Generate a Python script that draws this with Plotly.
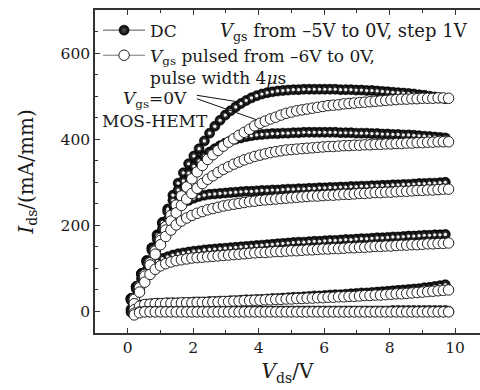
import plotly.graph_objects as go

# ---------------- data ----------------
vds_dc = [0.10,0.26,0.42,0.58,0.74,0.90,1.06,1.22,1.38,1.54,1.70,1.86,2.02,2.18,2.34,2.50,2.66,2.82,2.98,3.14,
          3.30,3.46,3.62,3.78,3.94,4.10,4.26,4.42,4.58,4.74,4.90,5.06,5.22,5.38,5.54,5.70,5.86,6.02,6.18,6.34,
          6.50,6.66,6.82,6.98,7.14,7.30,7.46,7.62,7.78,7.94,8.10,8.26,8.42,8.58,8.74,8.90,9.06,9.22,9.38,9.54,9.70]

vds_pulsed = [0.20,0.36,0.52,0.68,0.84,1.00,1.16,1.32,1.48,1.64,1.80,1.96,2.12,2.28,2.44,2.60,2.76,2.92,3.08,3.24,
              3.40,3.56,3.72,3.88,4.04,4.20,4.36,4.52,4.68,4.84,5.00,5.16,5.32,5.48,5.64,5.80,5.96,6.12,6.28,6.44,
              6.60,6.76,6.92,7.08,7.24,7.40,7.56,7.72,7.88,8.04,8.20,8.36,8.52,8.68,8.84,9.00,9.16,9.32,9.48,9.64,9.80]

# DC, Vgs = 0, -1, -2, -3, -4, -5 V
dc_vgs0 = [30,58,88,118,148,178,207,238,270,298,322,343,361,378,396,414,430,444,456,466,
           475,483,490,496,501,505,508,510,512,513,514,515,515,516,516,516,516,516,516,516,
           515,515,515,514,514,513,513,512,511,510,509,508,507,506,505,503,502,500,498,496,494]
dc_vgsm1 = [30,58,88,118,147,176,204,232,258,282,303,321,337,350,361,370,378,385,391,396,
            400,403,406,408,410,411,412,413,413,414,414,415,415,416,416,416,416,416,416,416,
            415,415,415,414,414,414,413,413,412,412,411,411,410,410,409,408,407,406,405,404,403]
dc_vgsm2 = [29,57,86,114,142,168,192,213,230,243,252,258,263,267,270,272,273,274,275,276,
            277,278,279,279,280,281,281,282,282,283,284,284,285,285,286,286,287,287,288,288,
            289,289,290,290,291,291,292,292,293,293,294,294,295,295,296,297,297,298,298,299,300]
dc_vgsm3 = [26,52,76,95,108,117,123,127,131,134,136,138,140,141,143,144,145,146,147,148,
            149,150,151,152,153,154,155,156,157,158,159,160,161,161,162,163,163,164,165,165,
            166,167,167,168,169,169,170,171,171,172,173,173,174,175,175,176,177,177,178,178,179]
dc_vgsm4 = [5,11,15,17,18,19,19,20,20,20,21,21,22,22,22,23,23,24,24,25,
            25,26,27,27,28,28,29,30,30,31,32,33,33,34,35,36,36,37,38,39,
            39,40,41,42,43,43,44,45,46,47,48,49,50,51,52,53,55,56,58,60,62]
dc_vgsm5 = [-2,0,1,1,1,1,1,1,1,1,1,1,1,1,1,1,1,1,1,1,
            1,1,1,1,1,1,1,1,1,1,1,1,1,1,1,1,1,1,1,1,
            1,1,1,1,1,1,1,1,1,1,2,2,2,2,2,2,2,2,2,2,2]

# Pulsed, Vgs = 0 ... -6 V
p_vgs0 = [30,58,86,114,142,170,197,223,247,268,289,308,324,339,353,364,374,384,393,401,
          409,416,423,431,437,442,447,451,456,460,463,466,468,470,472,474,476,478,479,480,
          482,483,484,485,486,487,488,489,490,491,492,493,493,494,494,495,495,495,496,496,495]
p_vgsm1 = [30,58,86,113,140,165,189,210,229,246,261,274,286,297,307,315,323,330,336,342,
           347,352,356,360,363,366,369,371,373,375,376,377,378,379,380,381,382,383,383,384,
           385,385,386,386,387,387,388,388,389,389,390,390,391,391,392,392,393,393,394,394,394]
p_vgsm2 = [28,55,82,108,133,155,174,189,201,210,217,223,228,232,236,239,242,245,247,249,
           251,253,255,256,258,259,260,261,262,263,264,265,266,267,268,268,269,270,270,271,
           272,272,273,274,274,275,276,276,277,277,278,279,279,280,281,281,282,282,283,284,284]
p_vgsm3 = [18,45,68,86,98,106,111,115,118,120,122,124,125,126,127,128,129,130,131,132,
           133,134,135,136,137,137,138,139,139,140,141,141,142,143,143,144,145,145,146,146,
           147,148,148,149,149,150,151,151,152,152,153,154,154,155,155,156,157,157,158,158,159]
p_vgsm4 = [4,12,16,17,18,18,19,19,19,20,20,20,21,21,21,22,22,23,23,24,
           24,25,25,26,26,27,27,28,28,29,29,30,30,31,31,32,32,33,33,34,
           34,35,35,36,37,37,38,38,39,40,41,41,42,43,44,45,46,47,48,49,50]
p_vgsm5 = [-4,-1,0,0,0,0,0,0,0,0,0,0,0,0,0,0,0,0,0,0,
           0,0,0,0,0,0,0,0,0,0,0,0,0,0,0,0,0,0,0,0,
           0,0,0,0,0,0,0,0,0,0,0,0,0,0,0,0,0,0,0,0,0]
p_vgsm6 = [-8,-3,-1,-1,-1,-1,-1,-1,-1,-1,-1,-1,-1,-1,-1,-1,-1,-1,-1,-1,
           -1,-1,-1,-1,-1,-1,-1,-1,-1,-1,-1,-1,-1,-1,-1,-1,-1,-1,-1,-1,
           -1,-1,-1,-1,-1,-1,-1,-1,-1,-1,-1,-1,-1,-1,-1,-1,-1,-1,-1,-1,-1]

dc_curves = [dc_vgs0, dc_vgsm1, dc_vgsm2, dc_vgsm3, dc_vgsm4, dc_vgsm5]
pulsed_curves = [p_vgs0, p_vgsm1, p_vgsm2, p_vgsm3, p_vgsm4, p_vgsm5, p_vgsm6]

dc_name = "DC"
pulsed_name = "<i>V</i><sub>gs</sub> pulsed from –6V to 0V,<br>pulse width 4<i>μ</i>s"

# ---------------- figure ----------------
FONT = "DejaVu Serif"
TXT = "#1a1a1a"
fig = go.Figure()

for i, ys in enumerate(dc_curves):
    fig.add_trace(go.Scatter(
        x=vds_dc, y=ys, mode="lines+markers", name=dc_name,
        showlegend=(i == 0), legendgroup="dc",
        line=dict(color="#555555", width=1),
        marker=dict(symbol="circle", size=10, color="#000000",
                    gradient=dict(type="radial", color="#555555"),
                    line=dict(color="#000000", width=0.6)),
    ))
# small glossy highlight on the DC beads
for ys in dc_curves:
    fig.add_trace(go.Scatter(
        x=vds_dc, y=ys, mode="markers", showlegend=False, hoverinfo="skip",
        marker=dict(symbol="circle", size=3.2, color="#f2f2f2", line=dict(width=0)),
    ))

for i, ys in enumerate(pulsed_curves):
    fig.add_trace(go.Scatter(
        x=vds_pulsed, y=ys, mode="lines+markers", name=pulsed_name,
        showlegend=(i == 0), legendgroup="pulsed",
        line=dict(color="#777777", width=1),
        marker=dict(symbol="circle", size=10.5, color="#ffffff",
                    line=dict(color="#222222", width=1)),
    ))

TS = 18
LS = 17
AS = 17
fig.add_annotation(x=2.76, y=649, xref="x", yref="y", xanchor="left", yanchor="middle",
                   text="<i>V</i><sub>gs</sub> from –5V to 0V, step 1V", showarrow=False,
                   font=dict(family=FONT, size=TS, color=TXT))
fig.add_annotation(x=1.86, y=492, xref="x", yref="y", xanchor="right", yanchor="middle",
                   text="<i>V</i><sub>gs</sub>=0V", showarrow=False,
                   font=dict(family=FONT, size=AS, color=TXT))
fig.add_annotation(x=0.83, y=443, xref="x", yref="y", xanchor="center", yanchor="middle",
                   text="MOS-HEMT", showarrow=False,
                   font=dict(family=FONT, size=AS, color=TXT))
fig.add_shape(type="line", xref="x", yref="y", x0=2.11, y0=502, x1=3.43, y1=486,
              line=dict(color="#111111", width=1))
fig.add_shape(type="line", xref="x", yref="y", x0=2.11, y0=494, x1=3.94, y1=445,
              line=dict(color="#111111", width=1))

axis_common = dict(
    showline=True, linecolor="#333333", linewidth=1.5,
    ticks="inside", tickcolor="#333333", ticklen=5, tickwidth=1.2,
    showgrid=False, zeroline=False,
    tickfont=dict(family=FONT, size=15.5, color=TXT),
)

fig.update_xaxes(
    range=[-1, 10.76], tickmode="array", tickvals=[0, 2, 4, 6, 8, 10],
    mirror="allticks",
    minor=dict(ticks="inside", dtick=1, tick0=0, ticklen=3, tickcolor="#333333", tickwidth=1.2),
    title=dict(text="<i>V</i><sub>ds</sub>/V", font=dict(family=FONT, size=20, color=TXT), standoff=8),
    **axis_common,
)
fig.update_yaxes(
    range=[-50, 700], tickmode="array", tickvals=[0, 200, 400, 600],
    mirror=False,
    minor=dict(ticks="inside", dtick=50, tick0=0, ticklen=3, tickcolor="#333333", tickwidth=1.2),
    title=dict(text="<i>I</i><sub>ds</sub>/(mA/mm)", font=dict(family=FONT, size=20, color=TXT), standoff=22),
    **axis_common,
)

fig.update_layout(
    width=480, height=390,
    margin=dict(l=95, r=0, t=10, b=57),
    paper_bgcolor="white", plot_bgcolor="white",
    showlegend=True,
    legend=dict(x=0.008, y=0.992, xanchor="left", yanchor="top",
                bgcolor="rgba(0,0,0,0)", borderwidth=0,
                font=dict(family=FONT, size=LS, color=TXT),
                tracegroupgap=0, itemwidth=42, valign="top",
                itemclick=False),
)

fig.write_html("out.html")
